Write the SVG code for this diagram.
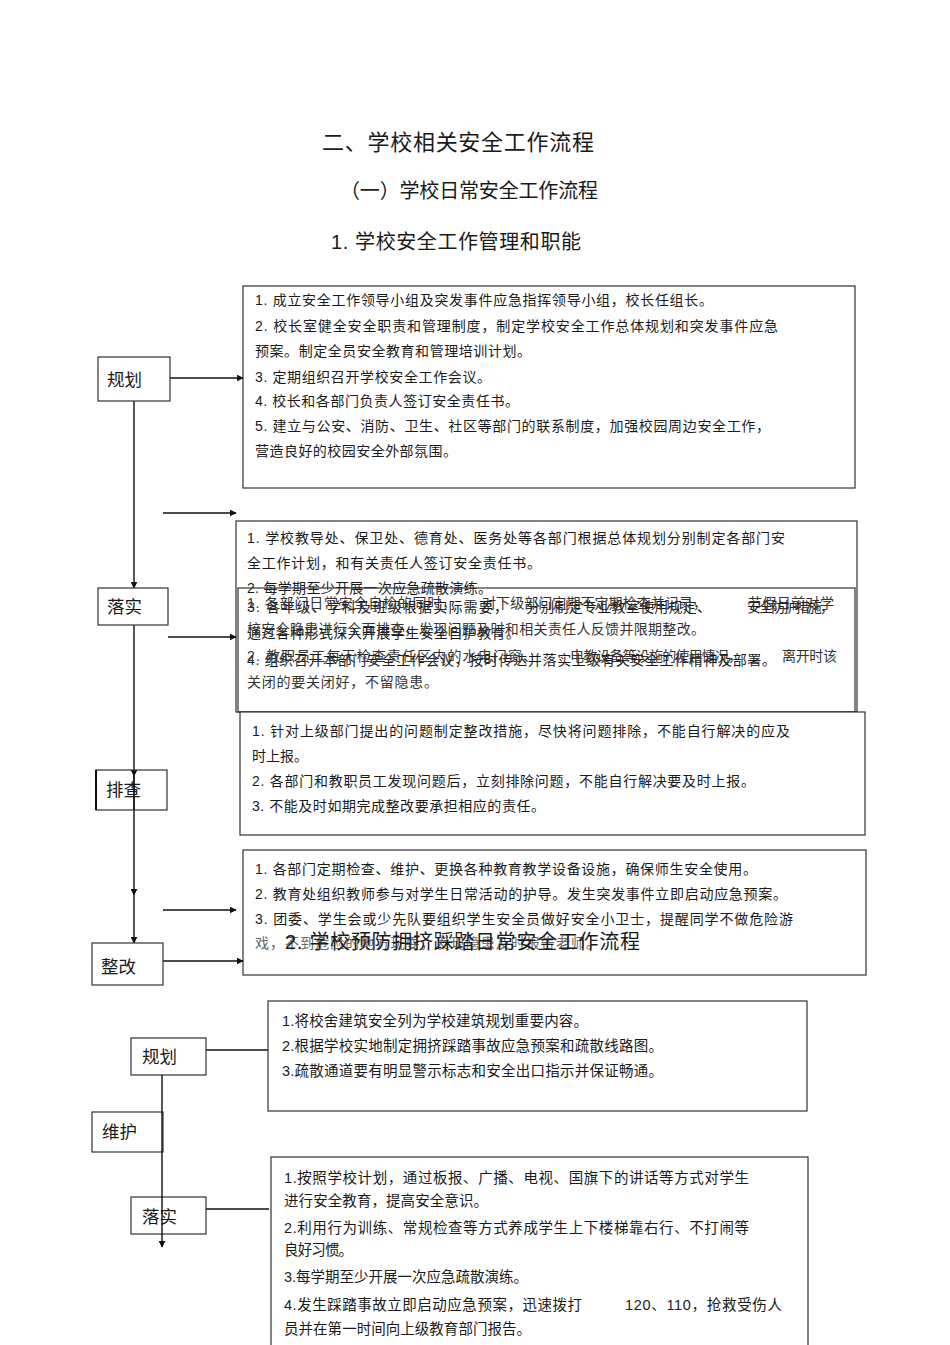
<svg xmlns="http://www.w3.org/2000/svg" width="950" height="1345" viewBox="0 0 950 1345">
<style>
text{font-family:"Liberation Sans","Noto Sans CJK SC",sans-serif;fill:#1a1a1a}
.t1{font-size:22px}
.t2{font-size:20px}
.s{font-size:14px}
.c{font-size:14.5px}
.lab{font-size:17.5px}
.box{fill:none;stroke:#333;stroke-width:1.2}
.nb{fill:#fff;stroke:#333;stroke-width:1.2}
.ln{fill:none;stroke:#111;stroke-width:1.4}
.g{fill:#333}
</style>
<defs>
<marker id="ah" viewBox="0 0 10 10" refX="9" refY="5" markerWidth="7" markerHeight="7" markerUnits="userSpaceOnUse" orient="auto">
<path d="M0,0 L10,5 L0,10 z" fill="#111"/>
</marker>
</defs>
<rect width="950" height="1345" fill="#fff"/>

<g id="titles">
<text class="t1" x="322" y="150" textLength="272">二、学校相关安全工作流程</text>
<text class="t2" x="340" y="198" textLength="258">（一）学校日常安全工作流程</text>
<text class="t2" x="331" y="249" textLength="250">1. 学校安全工作管理和职能</text>
</g>

<g id="box-plan1">
<rect class="box" x="243" y="286" width="612" height="202"/>
<text class="s" x="255" y="305" textLength="458">1. 成立安全工作领导小组及突发事件应急指挥领导小组，校长任组长。</text>
<text class="s" x="255" y="331" textLength="523">2. 校长室健全安全职责和管理制度，制定学校安全工作总体规划和突发事件应急</text>
<text class="s" x="255" y="356" textLength="276">预案。制定全员安全教育和管理培训计划。</text>
<text class="s" x="255" y="382" textLength="236">3. 定期组织召开学校安全工作会议。</text>
<text class="s" x="255" y="406" textLength="264">4. 校长和各部门负责人签订安全责任书。</text>
<text class="s" x="255" y="431" textLength="515">5. 建立与公安、消防、卫生、社区等部门的联系制度，加强校园周边安全工作，</text>
<text class="s" x="255" y="456" textLength="202">营造良好的校园安全外部氛围。</text>
</g>

<g id="box-impl1a">
<rect class="box" x="236" y="521" width="621" height="191"/>
<text class="s" x="247" y="543" textLength="538">1. 学校教导处、保卫处、德育处、医务处等各部门根据总体规划分别制定各部门安</text>
<text class="s" x="247" y="568" textLength="294">全工作计划，和有关责任人签订安全责任书。</text>
<text class="s" x="247" y="593" textLength="245">2. 每学期至少开展一次应急疏散演练。</text>
<text class="s" x="247" y="612" textLength="261">3. 各年级、学科及班级根据实际需要，</text>
<text class="s" x="526" y="612" textLength="185">分别制定专业教室使用规定、</text>
<text class="s" x="747" y="612" textLength="87">安全防护措施，</text>
<text class="s" x="247" y="638" textLength="273">通过各种形式深入开展学生安全自护教育。</text>
<text class="s" x="247" y="665" textLength="529">4. 组织召开本部门安全工作会议，按时传达并落实上级有关安全工作精神及部署。</text>
</g>

<g id="box-impl1b">
<rect class="box" x="238" y="588" width="617" height="124"/>
<text class="s g" x="247" y="608" textLength="209">1. 各部门日常安全自检的同时，</text>
<text class="s g" x="482" y="608" textLength="225">对下级部门定期不定期检查并记录，</text>
<text class="s g" x="748" y="608" textLength="86">节假日前对学</text>
<text class="s g" x="247" y="634" textLength="458">校安全隐患进行全面排查，发现问题及时和相关责任人反馈并限期整改。</text>
<text class="s g" x="247" y="661" textLength="290">2. 教职员工每天检查责任区内的水电门窗、</text>
<text class="s g" x="570" y="661" textLength="172">电教设备等设施的使用情况，</text>
<text class="s g" x="782" y="661" textLength="55">离开时该</text>
<text class="s g" x="247" y="687" textLength="191">关闭的要关闭好，不留隐患。</text>
</g>

<g id="box-check1">
<rect class="nb" x="240" y="712" width="625" height="123"/>
<text class="s" x="252" y="736" textLength="538">1. 针对上级部门提出的问题制定整改措施，尽快将问题排除，不能自行解决的应及</text>
<text class="s" x="252" y="761" textLength="56">时上报。</text>
<text class="s" x="252" y="786" textLength="503">2. 各部门和教职员工发现问题后，立刻排除问题，不能自行解决要及时上报。</text>
<text class="s" x="252" y="811" textLength="293">3. 不能及时如期完成整改要承担相应的责任。</text>
</g>

<g id="box-fix1">
<rect class="box" x="243" y="850" width="623" height="125"/>
<text class="s" x="255" y="874" textLength="502">1. 各部门定期检查、维护、更换各种教育教学设备设施，确保师生安全使用。</text>
<text class="s" x="255" y="899" textLength="532">2. 教育处组织教师参与对学生日常活动的护导。发生突发事件立即启动应急预案。</text>
<text class="s" x="255" y="924" textLength="538">3. 团委、学生会或少先队要组织学生安全员做好安全小卫士，提醒同学不做危险游</text>
<text class="s" x="255" y="948" textLength="345" style="fill:#666">戏，不到危险的地方玩耍，发现隐患及时报告老师。</text>
</g>

<g id="title2">
<text class="t2" x="285" y="949" textLength="355">2. 学校预防拥挤踩踏日常安全工作流程</text>
</g>

<g id="connectors">
<line class="ln" x1="170" y1="378" x2="243" y2="378" marker-end="url(#ah)"/>
<line class="ln" x1="134" y1="401" x2="134" y2="588" marker-end="url(#ah)"/>
<line class="ln" x1="163" y1="513" x2="236" y2="513" marker-end="url(#ah)"/>
<line class="ln" x1="168" y1="637" x2="236" y2="637" marker-end="url(#ah)"/>
<line class="ln" x1="134" y1="625" x2="134" y2="776" marker-end="url(#ah)"/>
<line class="ln" x1="134" y1="776" x2="134" y2="895" marker-end="url(#ah)"/>
<line class="ln" x1="134" y1="895" x2="134" y2="943" marker-end="url(#ah)"/>
<line class="ln" x1="163" y1="910" x2="236" y2="910" marker-end="url(#ah)"/>
<line class="ln" x1="163" y1="961" x2="243" y2="961" marker-end="url(#ah)"/>
<line class="ln" x1="206" y1="1050" x2="268" y2="1050"/>
<line class="ln" x1="206" y1="1209" x2="269" y2="1209"/>
</g>

<g id="node-plan">
<rect class="nb" x="98" y="357" width="72" height="44"/>
<text class="lab" x="107" y="386">规划</text>
</g>
<g id="node-impl">
<rect class="nb" x="98" y="588" width="70" height="37"/>
<text class="lab" x="107" y="613">落实</text>
</g>
<g id="node-check">
<rect class="box" x="96" y="770" width="71" height="40"/>
<line x1="96" y1="770" x2="96" y2="810" stroke="#111" stroke-width="2"/>
<line class="ln" x1="134" y1="776" x2="134" y2="810"/>
<text class="lab" x="106" y="796">排查</text>
</g>
<g id="node-fix">
<rect class="nb" x="92" y="943" width="71" height="42"/>
<text class="lab" x="101" y="973">整改</text>
</g>

<g id="box-plan2">
<rect class="box" x="268" y="1001" width="539" height="110"/>
<text class="c" x="282" y="1026" textLength="306">1.将校舍建筑安全列为学校建筑规划重要内容。</text>
<text class="c" x="282" y="1051" textLength="381">2.根据学校实地制定拥挤踩踏事故应急预案和疏散线路图。</text>
<text class="c" x="282" y="1076" textLength="381">3.疏散通道要有明显警示标志和安全出口指示并保证畅通。</text>
</g>

<g id="box-impl2">
<rect class="box" x="271" y="1157" width="537" height="200"/>
<text class="c" x="284" y="1183" textLength="465">1.按照学校计划，通过板报、广播、电视、国旗下的讲话等方式对学生</text>
<text class="c" x="284" y="1206" textLength="204">进行安全教育，提高安全意识。</text>
<text class="c" x="284" y="1233" textLength="465">2.利用行为训练、常规检查等方式养成学生上下楼梯靠右行、不打闹等</text>
<text class="c" x="284" y="1255" textLength="69">良好习惯。</text>
<text class="c" x="284" y="1282" textLength="244">3.每学期至少开展一次应急疏散演练。</text>
<text class="c" x="284" y="1310" textLength="298">4.发生踩踏事故立即启动应急预案，迅速拨打</text>
<text class="c" x="625" y="1310" textLength="157">120、110，抢救受伤人</text>
<text class="c" x="284" y="1334" textLength="247">员并在第一时间向上级教育部门报告。</text>
</g>

<g id="node-plan2">
<rect class="nb" x="131" y="1038" width="75" height="37"/>
<text class="lab" x="142" y="1063">规划</text>
</g>
<g id="node-maint2">
<rect class="nb" x="92" y="1112" width="71" height="40"/>
<text class="lab" x="102" y="1138">维护</text>
</g>
<g id="node-impl2">
<rect class="nb" x="131" y="1197" width="75" height="37"/>
<text class="lab" x="142" y="1223">落实</text>
</g>
<g id="connector-v2">
<line class="ln" x1="162" y1="1075" x2="162" y2="1247" marker-end="url(#ah)"/>
</g>
</svg>
